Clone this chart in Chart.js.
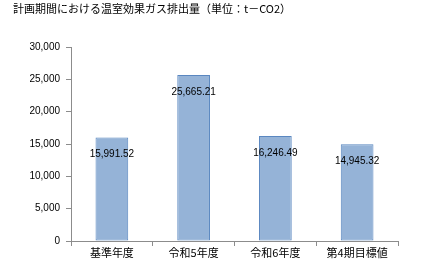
<!DOCTYPE html>
<html><head><meta charset="utf-8">
<script src="https://cdn.jsdelivr.net/npm/chart.js@4"></script>
<style>html,body{margin:0;padding:0;background:#fff}#w{width:424px;height:271px}</style>
</head><body><div id="w"><canvas id="c" width="424" height="271"></canvas></div>
<script>
const titleText = "計画期間における温室効果ガス排出量（単位：t－CO2）";
const categories = ["基準年度", "令和5年度", "令和6年度", "第4期目標値"];
const values = [15991.52, 25665.21, 16246.49, 14945.32];
const yTicks = [0, 5000, 10000, 15000, 20000, 25000, 30000];

const labelPlugin = {
  id: 'vals',
  afterDatasetsDraw(chart) {
    const ctx = chart.ctx;
    const meta = chart.getDatasetMeta(0);
    ctx.save();
    ctx.font = '10px "Liberation Sans", Arial, sans-serif';
    ctx.fillStyle = '#000';
    ctx.textAlign = 'center';
    ctx.textBaseline = 'middle';
    meta.data.forEach((bar, i) => {
      const s = values[i].toLocaleString('en-US', {minimumFractionDigits: 2, maximumFractionDigits: 2});
      ctx.fillText(s, bar.x, bar.y + 17);
    });
    ctx.restore();
  }
};
const titlePlugin = {
  id: 'ttl',
  afterDraw(chart) {
    const ctx = chart.ctx;
    ctx.save();
    ctx.font = '11px "Noto Sans CJK JP", sans-serif';
    ctx.fillStyle = '#000';
    ctx.textBaseline = 'middle';
    ctx.textAlign = 'left';
    ctx.fillText(titleText, 13, 9);
    ctx.restore();
  }
};

new Chart(document.getElementById('c'), {
  type: 'bar',
  data: {
    labels: categories,
    datasets: [{
      data: values,
      backgroundColor: '#95B3D7',
      borderColor: '#5A87C0',
      borderWidth: 1,
      borderSkipped: false,
      barPercentage: 0.4,
      categoryPercentage: 1.0
    }]
  },
  options: {
    responsive: false,
    animation: false,
    layout: {padding: {left: 0, right: 26, top: 47, bottom: 0}},
    plugins: {legend: {display: false}, tooltip: {enabled: false}, title: {display: false}},
    scales: {
      x: {
        grid: {drawOnChartArea: false, drawTicks: true, tickLength: 5, color: '#8c8c8c', offset: true},
        border: {color: '#8c8c8c', width: 1},
        ticks: {color: '#000', font: {size: 11, family: '"Noto Sans CJK JP", sans-serif'}, padding: 0, maxRotation: 0},
        afterFit(s) { s.height = 30; }
      },
      y: {
        min: 0, max: 30000,
        afterBuildTicks(s) { s.ticks = yTicks.map(v => ({value: v})); },
        grid: {drawOnChartArea: false, drawTicks: true, tickLength: 5, color: '#8c8c8c'},
        border: {color: '#8c8c8c', width: 1},
        ticks: {color: '#000', font: {size: 10, family: '"Liberation Sans", Arial, sans-serif'}, padding: 6,
          callback: v => v.toLocaleString('en-US')},
        afterFit(s) { s.width = 71; }
      }
    }
  },
  plugins: [labelPlugin, titlePlugin]
});
</script></body></html>
